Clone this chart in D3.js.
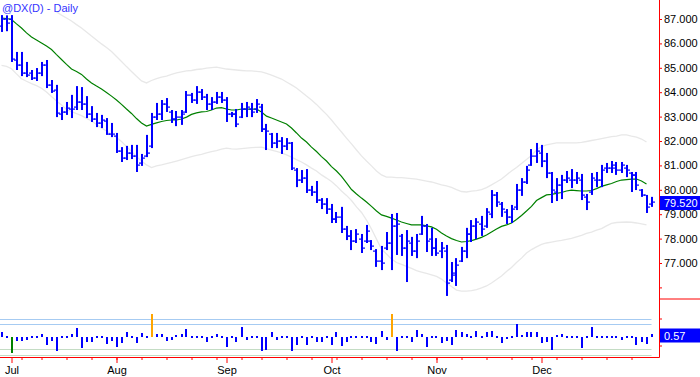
<!DOCTYPE html>
<html>
<head>
<meta charset="UTF-8">
<title>@DX(D) - Daily</title>
<style>
  body { margin: 0; background: #fff; }
  svg { display: block; font-family: "Liberation Sans", Arial, sans-serif; }
  .axis path.domain { display: none; }
  .axis line { stroke: #ff0000; }
  .axis text { fill: #000; font-size: 11px; }
</style>
</head>
<body>
<svg id="chart" width="700" height="377"></svg>
<script src="https://cdn.jsdelivr.net/npm/d3@7"></script>
<script>
// trading calendar: 29 Jun 2010 .. 31 Dec 2010, weekdays minus exchange holidays
const firstDay = "2010-06-29";
const lastDay = "2010-12-31";
const holidays = ["2010-07-05", "2010-09-06", "2010-11-25"];

// daily OHLC, one per trading day
const opens = [
  86.7,87.0,87.0,85.3,85.1,84.8,84.8,84.6,84.8,85.1,
  84.3,84.1,83.1,83.2,83.3,83.4,83.6,83.5,83.1,82.9,
  82.75,82.8,82.3,82.2,81.6,81.3,81.5,81.4,81.1,81.4,
  81.8,83.0,83.1,83.5,83.2,82.9,83.0,83.2,83.9,83.7,
  84.0,83.8,83.5,83.6,83.8,83.7,83.1,83.1,83.0,83.3,
  83.3,83.3,83.4,82.5,82.3,81.9,82.0,81.8,81.9,80.8,
  80.4,80.5,80.0,79.9,79.6,79.4,79.2,78.8,78.9,78.4,
  78.1,77.9,78.0,77.9,77.9,77.5,77.1,77.6,77.8,78.5,
  78.1,77.6,77.8,77.5,78.2,78.5,78.0,77.6,77.5,77.5,
  76.3,76.5,77.1,77.5,78.2,78.5,78.6,78.5,79.0,79.8,
  79.4,79.1,78.9,79.3,80.0,80.3,81.0,81.4,81.5,81.2,
  80.7,79.9,80.2,80.4,80.4,80.4,80.4,79.7,79.9,80.4,
  80.4,80.9,80.9,80.9,80.8,80.9,80.7,80.6,80.0,79.8,
  79.4
];
const highs = [
  87.16,87.15,87.16,85.65,85.65,85.24,84.91,84.99,85.24,85.32,
  84.50,84.30,83.39,83.60,83.89,84.25,84.21,83.84,83.43,83.15,
  83.07,82.94,82.74,82.33,81.75,81.80,81.84,81.84,81.47,82.25,
  83.15,83.56,83.68,83.76,83.27,83.23,83.27,84.05,83.97,84.25,
  84.13,83.93,83.80,84.01,84.01,83.80,83.19,83.31,83.56,83.60,
  83.56,83.72,83.52,82.70,82.33,82.33,82.16,82.12,81.96,80.89,
  80.81,80.85,80.16,80.36,79.66,79.66,79.42,79.09,79.30,78.52,
  78.35,78.39,78.19,78.56,77.94,77.57,77.70,78.27,79.01,79.05,
  78.19,78.35,78.07,78.19,78.93,78.60,78.44,78.02,77.86,77.74,
  77.04,77.20,77.66,78.44,78.76,78.84,78.93,79.25,79.99,79.91,
  79.50,79.21,79.38,80.24,80.48,80.98,81.67,81.92,81.84,81.51,
  80.73,80.48,80.61,80.77,80.85,80.73,80.65,79.83,80.69,80.73,
  81.02,81.10,81.18,81.14,81.14,81.02,80.73,80.73,80.03,79.79,
  79.71
];
const lows = [
  86.47,86.50,85.24,84.91,84.66,84.62,84.50,84.46,84.66,84.17,
  83.97,82.98,82.86,83.07,82.94,83.27,83.27,82.94,82.78,82.57,
  82.53,82.25,82.16,81.51,81.14,81.22,81.26,80.73,80.98,81.34,
  81.71,82.86,82.86,83.19,82.74,82.61,82.66,83.15,83.56,83.52,
  83.68,83.27,83.27,83.52,83.56,82.78,82.98,82.57,82.94,82.98,
  82.98,83.15,82.37,81.63,81.71,81.71,81.47,81.63,80.81,80.11,
  80.28,79.87,79.75,79.46,79.21,79.01,78.64,78.64,78.23,77.94,
  77.53,77.82,77.41,77.82,77.53,76.84,76.71,77.53,76.71,77.33,
  77.29,76.22,77.29,77.20,78.15,77.45,77.29,77.29,77.20,75.65,
  76.22,76.06,77.04,77.20,77.86,77.98,78.11,78.44,78.84,79.30,
  78.89,78.60,78.64,79.17,79.75,80.24,80.98,81.10,80.93,80.48,
  79.46,79.54,79.62,80.28,80.07,80.24,79.58,79.17,79.79,80.11,
  80.11,80.69,80.69,80.61,80.69,80.52,79.91,79.99,79.71,79.05,
  79.30
];
const closes = [
  87.0,86.85,85.35,85.1,84.8,84.7,84.6,84.8,85.1,84.3,
  84.05,83.15,83.2,83.35,83.3,83.6,83.5,83.1,82.9,82.75,
  82.85,82.3,82.3,81.6,81.3,81.5,81.4,81.0,81.3,81.5,
  83.0,83.1,83.5,83.4,82.9,83.0,83.1,83.9,83.7,84.0,
  83.8,83.5,83.6,83.8,83.7,83.1,83.1,82.7,83.3,83.4,
  83.2,83.5,82.5,82.4,81.9,82.0,81.8,81.9,80.9,80.4,
  80.5,80.0,79.9,79.6,79.4,79.2,78.8,78.9,78.4,78.1,
  77.9,78.2,77.6,78.3,77.7,77.1,77.0,77.8,78.5,78.6,
  77.6,77.9,77.5,77.9,78.5,77.9,77.6,77.4,77.6,76.2,
  76.6,76.9,77.5,78.2,78.5,78.7,78.4,79.1,79.8,79.5,
  79.2,78.9,79.2,80.0,80.3,80.8,81.4,81.6,81.2,80.7,
  80.0,80.2,80.4,80.5,80.4,80.5,79.8,79.5,80.5,80.4,
  80.8,80.9,81.0,80.8,81.0,80.8,80.6,80.2,79.8,79.3,
  79.52
];

// green moving average (last day not drawn)
const avgLine = [
  87.04,87.02,86.98,86.80,86.63,86.43,86.26,86.14,86.02,85.89,
  85.75,85.54,85.34,85.14,84.95,84.85,84.73,84.54,84.38,84.25,
  84.13,83.99,83.84,83.68,83.50,83.31,83.13,82.92,82.74,82.61,
  82.68,82.74,82.80,82.84,82.86,82.86,82.90,82.98,83.09,83.15,
  83.19,83.21,83.27,83.35,83.37,83.31,83.27,83.27,83.31,83.31,
  83.31,83.31,83.19,83.02,82.94,82.86,82.78,82.70,82.53,82.33,
  82.12,81.96,81.75,81.57,81.36,81.18,80.95,80.77,80.55,80.28,
  80.01,79.83,79.66,79.50,79.32,79.13,78.97,78.91,78.84,78.76,
  78.68,78.62,78.56,78.56,78.56,78.52,78.48,78.38,78.23,78.11,
  78.00,77.92,77.86,77.88,77.92,77.98,78.05,78.15,78.27,78.39,
  78.50,78.56,78.64,78.78,78.95,79.13,79.32,79.56,79.68,79.79,
  79.81,79.85,79.89,79.95,79.99,79.97,79.95,79.95,79.97,80.05,
  80.14,80.20,80.26,80.34,80.40,80.42,80.44,80.44,80.36,80.24,
  null
];
// light grey envelope (upper part of the first days is above the panel)
const upperBand = [
  null,null,null,null,null,null,null,null,null,null,
  null,87.29,87.16,87.04,86.92,86.77,86.63,86.47,86.30,86.14,
  85.98,85.83,85.67,85.46,85.26,85.05,84.85,84.65,84.46,84.38,
  84.48,84.56,84.62,84.66,84.73,84.79,84.83,84.87,84.89,84.93,
  84.95,84.99,85.01,85.03,84.99,84.95,84.93,84.91,84.89,84.87,
  84.87,84.85,84.83,84.77,84.70,84.62,84.54,84.42,84.30,84.17,
  84.01,83.84,83.68,83.50,83.29,83.09,82.86,82.61,82.37,82.12,
  81.88,81.63,81.39,81.18,80.98,80.77,80.61,80.52,80.52,80.50,
  80.50,80.48,80.46,80.44,80.40,80.36,80.32,80.26,80.20,80.16,
  80.10,80.01,79.93,79.91,79.95,79.97,80.01,80.09,80.20,80.32,
  80.44,80.61,80.77,80.91,81.08,81.24,81.41,81.63,81.77,81.84,
  81.88,81.92,81.92,81.92,81.92,81.92,81.94,81.98,82.02,82.06,
  82.10,82.14,82.18,82.20,82.25,82.25,82.20,82.16,82.08,81.96,
  null
];
const lowerBand = [
  85.10,85.06,84.96,84.75,84.55,84.45,84.35,84.27,84.16,84.01,
  83.82,83.64,83.48,83.29,83.20,83.12,83.04,82.93,82.82,82.68,
  82.53,82.41,82.29,82.14,81.98,81.77,81.57,81.36,81.18,81.02,
  80.91,80.98,81.02,81.07,81.12,81.18,81.24,81.30,81.36,81.41,
  81.45,81.51,81.56,81.61,81.67,81.71,81.68,81.67,81.69,81.71,
  81.73,81.74,81.75,81.69,81.63,81.57,81.51,81.43,81.34,81.24,
  81.14,81.02,80.89,80.77,80.61,80.48,80.34,80.16,79.95,79.77,
  79.56,79.30,79.07,78.76,78.39,77.98,77.57,77.37,77.16,77.02,
  76.94,76.86,76.78,76.69,76.63,76.57,76.51,76.45,76.34,76.18,
  76.04,75.89,75.85,75.85,75.87,75.91,75.98,76.06,76.18,76.32,
  76.47,76.65,76.82,77.02,77.20,77.41,77.55,77.66,77.76,77.82,
  77.86,77.90,77.93,77.97,78.01,78.07,78.13,78.21,78.27,78.35,
  78.41,78.52,78.62,78.66,78.67,78.68,78.67,78.64,78.60,78.56,
  null
];

// lower panel oscillator
const osc = [
  1.07,0.1,-3.56,-0.78,-0.89,-0.67,0.1,0.1,0.56,-1.78,
  -0.78,-3.0,0.18,0.27,0.67,2.11,-2.44,-1.11,-1.11,0.1,
  0.1,-1.56,-0.89,-2.22,-1.33,1.0,0.33,-1.33,0.78,0.33,
  5.22,0.67,0.56,-0.89,-0.67,0.44,0.67,1.67,0.1,0.1,
  0.1,-1.0,0.1,0.56,0.1,-2.22,0.1,-1.0,2.33,-0.67,
  0.1,0.1,-3.11,-2.89,1.22,-0.67,0.33,0.1,-3.11,-1.67,
  0.33,-1.67,0.1,-1.0,-1.0,0.1,-1.67,1.0,-2.11,-1.11,
  0.1,0.1,0.1,0.1,-1.11,-1.56,1.44,-0.56,5.0,-3.0,
  0.1,0.1,-1.0,1.56,0.67,-2.22,0.1,0.1,-1.33,-0.78,
  -1.67,1.56,1.11,0.56,0.1,1.33,-0.22,1.0,1.44,-0.1,
  -1.33,-0.44,0.33,2.78,0.44,1.22,1.22,1.11,-1.33,-1.11,
  -2.78,0.44,0.67,0.1,0.1,0.1,-2.44,0.1,2.33,0.1,
  0.33,0.1,0.1,0.1,-0.67,0.33,0.1,-1.78,-1.0,-1.56,
  0.57
];
const oscLevelsUp = [4, 2.75];
const oscLevelsDown = [-2.75, -4];
const oscHot = 4;      // above -> orange
const oscCold = -3.3;  // below -> green

const priceTicks = [76, 77, 78, 79, 80, 81, 82, 83, 84, 85, 86, 87];
const oscTicks = [4, -2];

// ---- calendar
const parse = d3.utcParse("%Y-%m-%d");
const fmtDay = d3.utcFormat("%Y-%m-%d");
const days = d3.utcDay.range(parse(firstDay), d3.utcDay.offset(parse(lastDay), 1))
  .filter(d => d.getUTCDay() > 0 && d.getUTCDay() < 6 && !holidays.includes(fmtDay(d)));

const bars = days.map((d, i) => ({
  i, date: d, o: opens[i], h: highs[i], l: lows[i], c: closes[i], v: osc[i]
}));

const monthIdx = bars.filter((b, i) => i > 0 && b.date.getUTCMonth() !== bars[i - 1].date.getUTCMonth()).map(b => b.i);
const weekIdx = bars.filter((b, i) => i > 0 && b.date.getUTCDay() <= bars[i - 1].date.getUTCDay()).map(b => b.i);

// ---- layout
const axisX = 659;
const mainTop = 12, mainBottom = 298.5;
const subBottom = 357;

const x = d3.scaleLinear().domain([0, bars.length - 1]).range([1.5, 1.5 + 5 * (bars.length - 1)]);
const y = d3.scaleLinear().domain([77, 87]).range([263, 19]);
const ys = d3.scaleLinear().domain([-4, 4]).range([354.5, 318.5]);

const svg = d3.select("#chart");

svg.append("defs").append("clipPath").attr("id", "mainClip")
  .append("rect").attr("x", 0).attr("y", mainTop).attr("width", axisX).attr("height", mainBottom - mainTop);

const main = svg.append("g").attr("clip-path", "url(#mainClip)");

const line = arr => d3.line()
  .defined(i => arr[i] != null)
  .x(i => x(i))
  .y(i => y(arr[i]))(d3.range(arr.length));

main.append("path").attr("d", line(upperBand)).attr("fill", "none").attr("stroke", "#e8e8e8").attr("stroke-width", 1.3);
main.append("path").attr("d", line(lowerBand)).attr("fill", "none").attr("stroke", "#e8e8e8").attr("stroke-width", 1.3);
main.append("path").attr("d", line(avgLine)).attr("fill", "none").attr("stroke", "#008000").attr("stroke-width", 1.2);

// OHLC bars
const bar = main.append("g").selectAll("g").data(bars).join("g").attr("fill", "#0000ff");
bar.append("rect")
  .attr("x", d => Math.round(x(d.i)) - 1).attr("width", 2)
  .attr("y", d => y(d.h)).attr("height", d => Math.max(1, y(d.l) - y(d.h)));
bar.append("rect")
  .attr("x", d => Math.round(x(d.i)) - 3).attr("width", 2)
  .attr("y", d => Math.round(y(d.o)) - 0.5).attr("height", 1.2);
bar.append("rect")
  .attr("x", d => Math.round(x(d.i)) + 1).attr("width", 2)
  .attr("y", d => Math.round(y(d.c)) - 0.5).attr("height", 1.2);

// title
svg.append("text").attr("x", 2).attr("y", 11.5)
  .attr("fill", "#3434ff").attr("font-size", "11px")
  .text("@DX(D) - Daily");

// ---- lower panel
const x0 = x(0) - 1.5, x1 = x(bars.length - 1);
oscLevelsUp.forEach(v => svg.append("line").attr("x1", x0).attr("x2", x1)
  .attr("y1", Math.round(ys(v)) + 0.5).attr("y2", Math.round(ys(v)) + 0.5)
  .attr("stroke", "#a6cbf2").attr("stroke-width", 1.2));
oscLevelsDown.forEach(v => svg.append("line").attr("x1", x0).attr("x2", x1)
  .attr("y1", Math.round(ys(v)) + 0.5).attr("y2", Math.round(ys(v)) + 0.5)
  .attr("stroke", "#c4dcc4").attr("stroke-width", 1.2));

const zeroY = Math.round(ys(0));
svg.append("g").selectAll("rect").data(bars).join("rect")
  .attr("x", d => Math.round(x(d.i)) - 1).attr("width", 2)
  .attr("y", d => {
    const h = Math.round(Math.abs(ys(d.v) - ys(0)));
    return h < 2 ? zeroY - 1 : (d.v > 0 ? zeroY - h : zeroY);
  })
  .attr("height", d => Math.max(2, Math.round(Math.abs(ys(d.v) - ys(0)))))
  .attr("fill", d => d.v > oscHot ? "#ffa500" : d.v < oscCold ? "#008000" : "#0000ff");

// ---- axes
svg.append("g").attr("class", "axis").attr("transform", `translate(${axisX},0)`)
  .call(d3.axisRight(y).tickValues(priceTicks).tickSize(3).tickPadding(2)
    .tickFormat(d => d >= 77 ? d3.format(".3f")(d) : ""));
svg.append("g").attr("class", "axis").attr("transform", `translate(${axisX},0)`)
  .call(d3.axisRight(ys).tickValues(oscTicks).tickSize(3).tickFormat(""));

svg.append("g").attr("class", "axis").attr("transform", `translate(0,${subBottom})`)
  .call(d3.axisBottom(x).tickValues(weekIdx).tickSize(3).tickFormat(""));
svg.append("g").attr("class", "axis").attr("transform", `translate(0,${subBottom})`)
  .call(d3.axisBottom(x).tickValues(monthIdx).tickSize(6).tickPadding(3)
    .tickFormat(i => d3.utcFormat("%b")(bars[i].date)));

svg.append("line").attr("x1", axisX + 0.5).attr("x2", axisX + 0.5).attr("y1", 0).attr("y2", subBottom + 0.5)
  .attr("stroke", "#ff0000");
svg.append("line").attr("x1", 0).attr("x2", axisX + 0.5).attr("y1", subBottom + 0.5).attr("y2", subBottom + 0.5)
  .attr("stroke", "#ff0000");
svg.append("line").attr("x1", axisX).attr("x2", 700).attr("y1", mainBottom + 0.5).attr("y2", mainBottom + 0.5)
  .attr("stroke", "#ff0000");

// ---- last value tags
const last = bars[bars.length - 1];
const tag = (yc, label) => {
  svg.append("rect").attr("x", axisX + 1).attr("y", yc - 6.5).attr("width", 700 - axisX - 1).attr("height", 14)
    .attr("fill", "#0000ff");
  svg.append("text").attr("x", axisX + 5).attr("y", yc + 4.5)
    .attr("fill", "#fff").attr("font-size", "11px").text(label);
};
tag(y(last.c) + 1, d3.format(".3f")(last.c));
tag(335, d3.format(".2f")(last.v));
</script>
</body>
</html>
